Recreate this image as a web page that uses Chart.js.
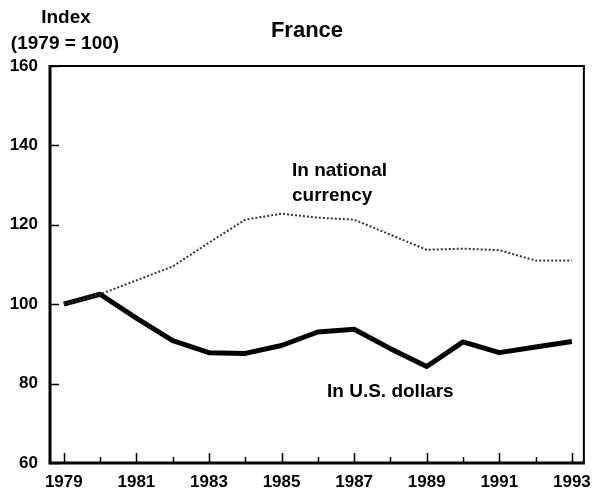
<!DOCTYPE html>
<html>
<head>
<meta charset="utf-8">
<script src="https://cdn.jsdelivr.net/npm/chart.js@4"></script>
<style>
html,body{margin:0;padding:0;background:#fff;}
#wrap{width:600px;height:493px;position:relative;}
</style>
</head>
<body>
<div id="wrap"><canvas id="c" width="600" height="493"></canvas></div>
<script>
const years = [1979,1980,1981,1982,1983,1984,1985,1986,1987,1988,1989,1990,1991,1992,1993];
const nationalCurrency = [100,102.5,106,109.5,115.5,121.3,122.8,121.8,121.3,117.5,113.7,114,113.6,111,111];
const usDollars = [100,102.5,96.5,90.8,87.8,87.6,89.6,93,93.7,88.8,84.3,90.5,87.8,89.2,90.6];
const yTickValues = [60,80,100,120,140,160];
const titleText = 'France';
const yAxisTitle = ['Index','(1979 = 100)'];
const labelNational = ['In national','currency'];
const labelDollars = 'In U.S. dollars';

const FONT = '"Liberation Sans", Arial, Helvetica, sans-serif';

const toPts = arr => years.map((y,i)=>({x:y,y:arr[i]}));

const decor = {
  id:'decor',
  afterDraw(chart){
    const ctx = chart.ctx, a = chart.chartArea;
    const xs = chart.scales.x, ys = chart.scales.y;
    ctx.save();
    ctx.strokeStyle = '#000';
    // frame
    ctx.lineWidth = 2;
    ctx.beginPath();
    ctx.moveTo(a.left, a.top); ctx.lineTo(a.right, a.top); ctx.lineTo(a.right, a.bottom);
    ctx.stroke();
    ctx.lineWidth = 3;
    ctx.beginPath();
    ctx.moveTo(a.left, a.top-1); ctx.lineTo(a.left, a.bottom); ctx.lineTo(a.right+1, a.bottom);
    ctx.stroke();
    // inward ticks
    ctx.lineWidth = 1.5;
    years.forEach(y=>{
      const px = Math.round(xs.getPixelForValue(y))+0.5;
      const len = (y%2===1) ? 10 : 6;
      ctx.beginPath(); ctx.moveTo(px, a.bottom); ctx.lineTo(px, a.bottom-len); ctx.stroke();
    });
    yTickValues.forEach(v=>{
      const py = Math.round(ys.getPixelForValue(v))+0.5;
      ctx.beginPath(); ctx.moveTo(a.left, py); ctx.lineTo(a.left+9, py); ctx.stroke();
    });
    // texts
    ctx.fillStyle = '#000';
    ctx.textBaseline = 'middle';
    ctx.textAlign = 'center';
    ctx.font = 'bold 22px ' + FONT;
    ctx.fillText(titleText, 307, 31);
    ctx.font = 'bold 19px ' + FONT;
    ctx.fillText(yAxisTitle[0], 66, 18);
    ctx.fillText(yAxisTitle[1], 65, 44);
    ctx.textAlign = 'left';
    ctx.font = 'bold 19px ' + FONT;
    ctx.fillText(labelNational[0], 292, 171);
    ctx.fillText(labelNational[1], 292, 196);
    ctx.fillText(labelDollars, 327, 392);
    ctx.restore();
  }
};

new Chart(document.getElementById('c'), {
  type:'line',
  data:{
    datasets:[
      {label:'In national currency', data:toPts(nationalCurrency), borderColor:'#333', borderWidth:2, borderDash:[2,2], pointRadius:0, tension:0, fill:false},
      {label:'In U.S. dollars', data:toPts(usDollars), borderColor:'#000', borderWidth:5, pointRadius:0, tension:0, fill:false, borderJoinStyle:'round', borderCapStyle:'butt'}
    ]
  },
  options:{
    responsive:false,
    animation:false,
    devicePixelRatio:1,
    layout:{padding:{top:66,right:9,left:0,bottom:0}},
    plugins:{legend:{display:false},tooltip:{enabled:false},title:{display:false}},
    scales:{
      x:{
        type:'linear', min:1978.62, max:1993.33,
        border:{display:false},
        grid:{display:false, drawTicks:false},
        afterFit(s){ s.height = 30; },
        afterBuildTicks(s){ s.ticks = years.map(v=>({value:v})); },
        ticks:{autoSkip:false, maxRotation:0, padding:9, color:'#000',
          font:{family:FONT, size:17, weight:'bold'},
          callback:(v)=> (v%2===1) ? String(v) : ''}
      },
      y:{
        min:60, max:160,
        border:{display:false},
        grid:{display:false, drawTicks:false},
        afterFit(s){ s.width = 50; },
        afterBuildTicks(s){ s.ticks = yTickValues.map(v=>({value:v})); },
        ticks:{padding:12, color:'#000', font:{family:FONT, size:17, weight:'bold'}}
      }
    }
  },
  plugins:[decor]
});
</script>
</body>
</html>
